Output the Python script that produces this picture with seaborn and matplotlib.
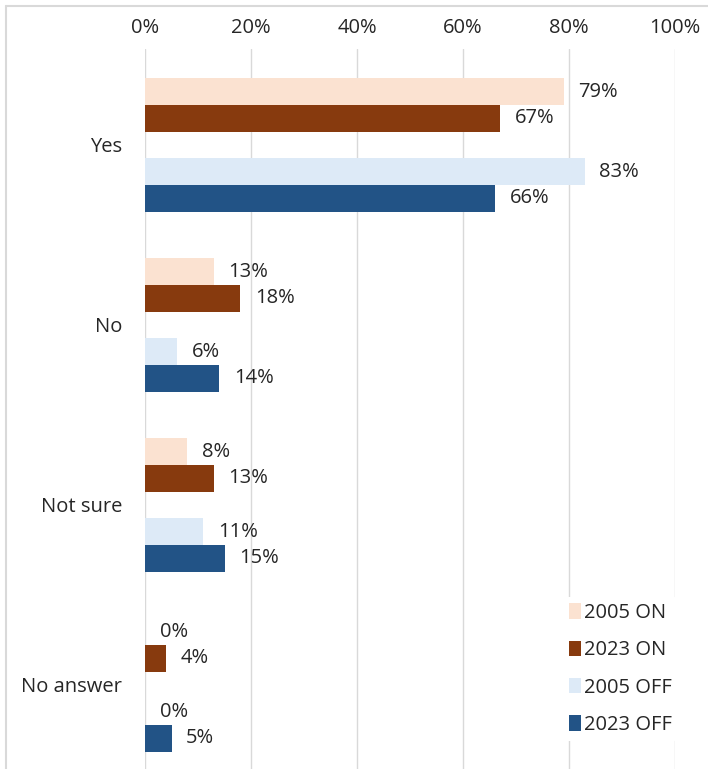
import matplotlib
matplotlib.use("Agg")
import matplotlib.pyplot as plt
import seaborn as sns
import pandas as pd
import numpy as np
from matplotlib.patches import Patch
from matplotlib.lines import Line2D

categories = ["Yes", "No", "Not sure", "No answer"]
series = ["2005 ON", "2023 ON", "2005 OFF", "2023 OFF"]
v2005_on = [79, 13, 8, 0]
v2023_on = [67, 18, 13, 4]
v2005_off = [83, 6, 11, 0]
v2023_off = [66, 14, 15, 5]
tick_labels = ["0%", "20%", "40%", "60%", "80%", "100%"]

colors = {"2005 ON": "#FBE2D1", "2023 ON": "#873A0E",
          "2005 OFF": "#DDEAF7", "2023 OFF": "#225386", "_gap": "#FFFFFF"}

rows = []
for name, vals in zip(series, [v2005_on, v2023_on, v2005_off, v2023_off]):
    for c, v in zip(categories, vals):
        rows.append({"cat": c, "series": name, "val": v})
for c in categories:
    rows.append({"cat": c, "series": "_gap", "val": 0})
df = pd.DataFrame(rows)
hue_order = ["2005 ON", "2023 ON", "_gap", "2005 OFF", "2023 OFF"]

sns.set_theme(style="white")
plt.rcParams["font.family"] = ["Open Sans", "DejaVu Sans"]
txt = "#262626"
fs = 14.5

fig = plt.figure(figsize=(7.08, 7.69), dpi=100)
ax = fig.add_axes([145/708, 0, 530/708, 720/769])

sns.barplot(data=df, y="cat", x="val", hue="series", hue_order=hue_order,
            order=categories, palette=colors, orient="h", width=0.74,
            dodge=True, gap=0.0, linewidth=0, saturation=1, legend=False,
            ax=ax, errorbar=None)

for cont, name in zip(ax.containers, hue_order):
    if name == "_gap":
        continue
    ax.bar_label(cont, labels=[f"{int(round(p.get_width()))}%" for p in cont],
                 padding=10.5, fontsize=fs, color=txt)

ax.set_xlim(0, 100)
ax.set_ylim(3.467, -0.533)
ax.set_xticks([0, 20, 40, 60, 80, 100])
ax.set_xticklabels(tick_labels)
ax.xaxis.tick_top()
ax.tick_params(axis="x", length=0, pad=8, labelsize=fs, labelcolor=txt)
ax.tick_params(axis="y", length=0, pad=16.5, labelsize=fs, labelcolor=txt)
ax.set_xlabel("")
ax.set_ylabel("")
ax.grid(axis="x", color="#D9D9D9", linewidth=1)
ax.set_axisbelow(True)
for s in ax.spines.values():
    s.set_visible(False)

handles = [Patch(facecolor=colors[s], edgecolor="none") for s in series]
leg = fig.legend(handles, series, loc="upper left",
                 bbox_to_anchor=(553/708, 1 - 587/769), frameon=True,
                 fontsize=fs, labelspacing=0.86, handlelength=0.6,
                 handleheight=0.8, handletextpad=0.15, borderpad=0.3,
                 labelcolor=txt)
leg.get_frame().set_facecolor("white")
leg.get_frame().set_edgecolor("none")
leg.get_frame().set_alpha(1)

fig.add_artist(Line2D([6/708, 1], [1 - 6/769, 1 - 6/769], color="#D9D9D9",
                      lw=1.5, transform=fig.transFigure))
fig.add_artist(Line2D([6/708, 6/708], [0, 1 - 6/769], color="#D9D9D9",
                      lw=1.5, transform=fig.transFigure))

fig.savefig("out.png", dpi=100)
